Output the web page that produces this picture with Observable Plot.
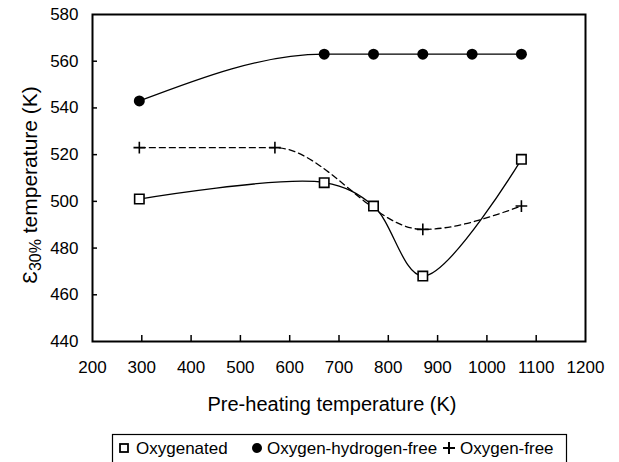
<!DOCTYPE html>
<html>
<head>
<meta charset="utf-8">
<script src="https://cdn.jsdelivr.net/npm/d3@7"></script>
<script src="https://cdn.jsdelivr.net/npm/@observablehq/plot@0.6"></script>
<style>
  html, body { margin: 0; padding: 0; background: #fff; }
  body { width: 619px; height: 462px; overflow: hidden; font-family: "Liberation Sans", Arial, sans-serif; }
  svg { display: block; }
</style>
</head>
<body>
<div id="chart"></div>
<div id="legend"></div>
<script>
// Data
const oxygenatedX = [295, 670, 770, 870, 1070];
const oxygenatedY = [501, 508, 498, 468, 518];
const ohFreeX = [295, 670, 770, 870, 970, 1070];
const ohFreeY = [543, 563, 563, 563, 563, 563];
const oFreeX = [295, 570, 870, 1070];
const oFreeY = [523, 523, 488, 498];
const xTicks = [200, 300, 400, 500, 600, 700, 800, 900, 1000, 1100, 1200];
const yTicks = [440, 460, 480, 500, 520, 540, 560, 580];
const seriesNames = ["Oxygenated", "Oxygen-hydrogen-free", "Oxygen-free"];

const oxy = oxygenatedX.map((x, i) => ({x, y: oxygenatedY[i]}));
const ohf = ohFreeX.map((x, i) => ({x, y: ohFreeY[i]}));
const of = oFreeX.map((x, i) => ({x, y: oFreeY[i]}));

const xDomain = [200, 1200];
const yDomain = [440, 580];
const innerXTicks = xTicks.filter(t => t > xDomain[0] && t < xDomain[1]);
const innerYTicks = yTicks.filter(t => t > yDomain[0] && t < yDomain[1]);

const plusSymbol = {
  draw(ctx, size) {
    const r = Math.sqrt(size) * 0.6;
    ctx.moveTo(-r, 0); ctx.lineTo(r, 0);
    ctx.moveTo(0, -r); ctx.lineTo(0, r);
  }
};

const W = 619, H = 425, ML = 92, MR = 34, MT = 14, MB = 84;

const chart = Plot.plot({
  width: W,
  height: H,
  marginLeft: ML,
  marginRight: MR,
  marginTop: MT,
  marginBottom: MB,
  style: {fontFamily: "Liberation Sans, Arial, sans-serif", fontSize: "17px", color: "#000", background: "#fff"},
  x: {domain: xDomain, ticks: xTicks, tickSize: 0, tickPadding: 19, label: null, tickFormat: d => String(d)},
  y: {domain: yDomain, ticks: yTicks, tickSize: 0, tickPadding: 14, label: null},
  marks: [
    Plot.tickX(innerXTicks, {x: d => d, stroke: "#000", strokeWidth: 1.5, insetTop: (H - MT - MB) - 6}),
    Plot.tickY(innerYTicks, {y: d => d, stroke: "#000", strokeWidth: 1.5, insetRight: (W - ML - MR) - 5}),
    Plot.frame({stroke: "#000", strokeWidth: 2}),
    Plot.line(ohf, {x: "x", y: "y", curve: "monotone-x", stroke: "#000", strokeWidth: 1.3}),
    Plot.line(oxy, {x: "x", y: "y", curve: "catmull-rom", stroke: "#000", strokeWidth: 1.3}),
    Plot.line(of, {x: "x", y: "y", curve: "monotone-x", stroke: "#000", strokeWidth: 1.3, strokeDasharray: "6,4"}),
    Plot.dot(ohf, {x: "x", y: "y", r: 5.5, fill: "#000", stroke: "none", symbol: "circle"}),
    Plot.dot(oxy, {x: "x", y: "y", r: 5.3, fill: "#fff", stroke: "#000", strokeWidth: 1.6, symbol: "square"}),
    Plot.dot(of, {x: "x", y: "y", r: 5.5, fill: "none", stroke: "#000", strokeWidth: 1.6, symbol: plusSymbol})
  ]
});
document.getElementById("chart").appendChild(chart);

// axis titles
const svg = d3.select(chart);
svg.append("text")
  .attr("x", 332).attr("y", 411)
  .attr("text-anchor", "middle")
  .style("font-size", "20px").attr("fill", "#000")
  .text("Pre-heating temperature (K)");
const yl = svg.append("text")
  .attr("transform", `translate(37, 185) rotate(-90)`)
  .attr("text-anchor", "middle")
  .style("font-size", "21px").attr("fill", "#000");
yl.append("tspan").text("Ɛ");
yl.append("tspan").attr("dy", 4).style("font-size", "16px").text("30%");
yl.append("tspan").attr("dy", -4).text(" temperature (K)");

// legend (below the chart svg)
const lg = d3.select("#legend").append("svg").attr("width", W).attr("height", 462 - H);
lg.append("rect").attr("x", 112.5).attr("y", 9.5).attr("width", 454).attr("height", 40)
  .attr("fill", "#fff").attr("stroke", "#000").attr("stroke-width", 1.2);
const cy = 23;
lg.append("rect").attr("x", 120).attr("y", cy - 4).attr("width", 8).attr("height", 8)
  .attr("fill", "#fff").attr("stroke", "#000").attr("stroke-width", 1.8);
lg.append("circle").attr("cx", 257).attr("cy", cy).attr("r", 5).attr("fill", "#000");
lg.append("path").attr("d", `M443,${cy}H455M449,${cy - 6}V${cy + 6}`).attr("stroke", "#000").attr("stroke-width", 2);
const textX = [136, 267, 460];
seriesNames.forEach((name, i) => {
  lg.append("text").attr("x", textX[i]).attr("y", 28.5)
    .style("font-size", "17px").style("font-family", "Liberation Sans, Arial, sans-serif")
    .attr("fill", "#000").text(name);
});
</script>
</body>
</html>
